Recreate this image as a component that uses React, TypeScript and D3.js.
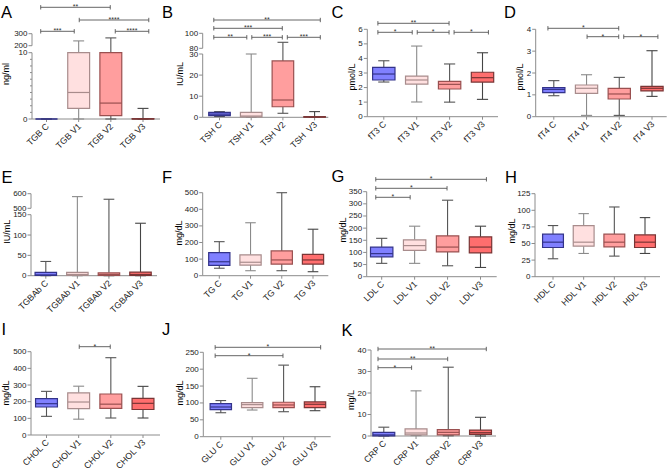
import React from 'react';
import * as d3 from 'd3';

const FONT = "'Liberation Sans', Arial, Helvetica, sans-serif";

// ---------------- data (box stats: [min, q1, median, q3, max]) ----------------
const tgbLabels = ['TGB C', 'TGB V1', 'TGB V2', 'TGB V3'];
const tgbStats = [[0, 0, 0, 0, 0], [0, 1.6, 4.0, 10, 240], [0, 0.5, 2.4, 10, 265], [0, 0, 0, 0.05, 1.6]];
const tgbTicksLow = [0, 10];
const tgbMinorLow = [1, 2, 3, 4, 5, 6, 7, 8, 9];
const tgbTicksHigh = [200, 300];
const tgbSig: [number, number, string, number][] = [[0, 2, '**', 2], [1, 3, '****', 1], [0, 1, '***', 0], [2, 3, '****', 0]];

const tshLabels = ['TSH C', 'TSH V1', 'TSH V2', 'TSH\u00a0 V3'];
const tshStats = [[0.4, 0.8, 1.5, 2.3, 2.7], [0, 0.2, 0.6, 2.3, 30], [1.9, 5.0, 8.2, 26.7, 88], [0, 0.05, 0.2, 0.3, 2.7]];
const tshTicksLow = [0, 10, 20, 30];
const tshTicksHigh = [80, 100];
const tshSig: [number, number, string, number][] = [[0, 3, '**', 2], [0, 2, '***', 1], [0, 1, '**', 0], [1, 2, '***', 0], [2, 3, '***', 0]];

const ft3Labels = ['fT3 C', 'fT3 V1', 'fT3 V2', 'fT3 V3'];
const ft3Stats = [[2.38, 2.52, 2.93, 3.39, 3.84], [1.01, 2.24, 2.52, 2.79, 4.85], [1.0, 1.9, 2.22, 2.43, 3.62], [1.19, 2.38, 2.68, 3.05, 4.39]];
const ft3Ticks = [0, 1, 2, 3, 4, 5, 6];
const ft3Sig: [number, number, string, number][] = [[0, 2, '**', 1], [0, 1, '*', 0], [1, 2, '*', 0], [2, 3, '*', 0]];

const ft4Labels = ['fT4 C', 'fT4 V1', 'fT4 V2', 'fT4 V3'];
const ft4Stats = [[0.96, 1.1, 1.25, 1.33, 1.65], [0.06, 1.07, 1.3, 1.45, 1.92], [0.06, 0.81, 1.04, 1.3, 1.8], [0.93, 1.18, 1.3, 1.39, 3.02]];
const ft4Ticks = [0, 1, 2, 3, 4];
const ft4Sig: [number, number, string, number][] = [[0, 2, '*', 1], [1, 2, '*', 0], [2, 3, '*', 0]];

const tgbabLabels = ['TGBAb C', 'TGBAb V1', 'TGBAb V2', 'TGBAb V3'];
const tgbabStats = [[0, 0.5, 2, 8, 35], [0, 0.5, 3, 8, 580], [0, 0.5, 3, 7, 562], [0, 0.5, 3, 9, 129]];
const tgbabTicksLow = [0, 50, 100, 150];
const tgbabTicksHigh = [500, 600];

const tgLabels = ['TG C', 'TG V1', 'TG V2', 'TG V3'];
const tgStats = [[45, 62, 84, 139, 205], [30, 64, 81, 126, 319], [30, 70, 95, 149, 500], [24, 70, 95, 129, 280]];
const tgTicks = [0, 100, 200, 300, 400, 500];

const ldlLabels = ['LDL C', 'LDL V1', 'LDL V2', 'LDL V3'];
const ldlStats = [[55, 82, 95, 122, 158], [55, 108, 128, 152, 208], [45, 102, 122, 168, 315], [38, 98, 122, 164, 208]];
const ldlTicks = [0, 50, 100, 150, 200, 250, 300, 350];
const ldlSig: [number, number, string, number][] = [[0, 3, '*', 2], [0, 2, '*', 1], [0, 1, '*', 0]];

const hdlLabels = ['HDL C', 'HDL V1', 'HDL V2', 'HDL V3'];
const hdlStats = [[27, 44, 52, 64, 77], [35, 46, 52, 77, 95], [31, 45, 52, 64, 105], [35, 44, 52, 63, 89]];
const hdlTicks = [0, 25, 50, 75, 100, 125];

const cholLabels = ['CHOL C', 'CHOL V1', 'CHOL V2', 'CHOL V3'];
const cholStats = [[112, 168, 188, 218, 262], [95, 158, 198, 253, 293], [102, 160, 185, 246, 464], [102, 153, 190, 220, 292]];
const cholTicks = [0, 100, 200, 300, 400, 500];
const cholSig: [number, number, string, number][] = [[1, 2, '*', 0]];

const gluLabels = ['GLU C', 'GLU V1', 'GLU V2', 'GLU V3'];
const gluStats = [[71, 80, 88, 98, 107], [79, 86, 95, 101, 173], [74, 86, 94, 102, 212], [77, 86, 96, 103, 148]];
const gluTicks = [0, 50, 100, 150, 200, 250];
const gluSig: [number, number, string, number][] = [[0, 3, '*', 1], [0, 2, '*', 0]];

const crpLabels = ['CRP C', 'CRP V1', 'CRP V2', 'CRP V3'];
const crpStats = [[0, 0.1, 0.5, 1.7, 4.1], [0.2, 0.5, 1.4, 3.3, 21], [0.1, 0.5, 1.7, 3.0, 32], [0, 0.8, 1.55, 2.7, 8.7]];
const crpTicks = [0, 10, 20, 30, 40];
const crpSig: [number, number, string, number][] = [[0, 3, '**', 2], [0, 2, '**', 1], [0, 1, '*', 0]];

// ---------------- styles ----------------
const boxFill = ['#8080ff', '#ffe0e0', '#ff9e9e', '#ff6e6e'];
const boxStroke = ['#33338a', '#a88c8c', '#9a5050', '#7a3535'];
const whiskerStroke = ['#555555', '#8a8a8a', '#555555', '#444444'];
const axisColor = '#8c8c8c';
const textColor = '#222222';

type Seg = { domain: [number, number]; ticks: number[]; minor?: number[] };
type PanelDef = { id: string; unit: string; labels: string[]; stats: number[][]; sig: [number, number, string, number][]; segs: Seg[] };

const panels: PanelDef[] = [
  { id: 'A', unit: 'ng/ml', labels: tgbLabels, stats: tgbStats, sig: tgbSig, segs: [{ domain: [0, 10], ticks: tgbTicksLow, minor: tgbMinorLow }, { domain: [200, 300], ticks: tgbTicksHigh }] },
  { id: 'B', unit: 'IU/mL', labels: tshLabels, stats: tshStats, sig: tshSig, segs: [{ domain: [0, 30], ticks: tshTicksLow }, { domain: [80, 100], ticks: tshTicksHigh }] },
  { id: 'C', unit: 'pmol/L', labels: ft3Labels, stats: ft3Stats, sig: ft3Sig, segs: [{ domain: [0, 6], ticks: ft3Ticks }] },
  { id: 'D', unit: 'pmol/L', labels: ft4Labels, stats: ft4Stats, sig: ft4Sig, segs: [{ domain: [0, 4], ticks: ft4Ticks }] },
  { id: 'E', unit: 'IU/mL', labels: tgbabLabels, stats: tgbabStats, sig: [], segs: [{ domain: [0, 150], ticks: tgbabTicksLow }, { domain: [500, 600], ticks: tgbabTicksHigh }] },
  { id: 'F', unit: 'mg/dL', labels: tgLabels, stats: tgStats, sig: [], segs: [{ domain: [0, 500], ticks: tgTicks }] },
  { id: 'G', unit: 'mg/dL', labels: ldlLabels, stats: ldlStats, sig: ldlSig, segs: [{ domain: [0, 350], ticks: ldlTicks }] },
  { id: 'H', unit: 'mg/dL', labels: hdlLabels, stats: hdlStats, sig: [], segs: [{ domain: [0, 125], ticks: hdlTicks }] },
  { id: 'I', unit: 'mg/dL', labels: cholLabels, stats: cholStats, sig: cholSig, segs: [{ domain: [0, 500], ticks: cholTicks }] },
  { id: 'J', unit: 'mg/dL', labels: gluLabels, stats: gluStats, sig: gluSig, segs: [{ domain: [0, 250], ticks: gluTicks }] },
  { id: 'K', unit: 'mg/L', labels: crpLabels, stats: crpStats, sig: crpSig, segs: [{ domain: [0, 40], ticks: crpTicks }] },
];

type Layout = { letter: [number, number]; axisX: number; axisEnd: number; c: [number, number]; title: [number, number]; ranges: [number, number][]; sigY: number[] };

const layouts: Record<string, Layout> = {
  A: { letter: [1, 18], axisX: 32, axisEnd: 160, c: [46.5, 143], title: [6, 74], ranges: [[119, 52.7], [45.7, 33.7]], sigY: [31.3, 20, 7.3] },
  B: { letter: [162, 17.5], axisX: 202.7, axisEnd: 328.3, c: [219.5, 314.6], title: [179.5, 74], ranges: [[117.3, 54], [48.3, 33.3]], sigY: [37.3, 28.3, 20] },
  C: { letter: [331.5, 17.5], axisX: 367.3, axisEnd: 498, c: [383.8, 482.5], title: [352, 77], ranges: [[116.7, 29.3]], sigY: [32.3, 23.3] },
  D: { letter: [504, 17.5], axisX: 535.7, axisEnd: 666.7, c: [553.8, 652], title: [519.5, 77], ranges: [[116.7, 29.3]], sigY: [36.7, 28.3] },
  E: { letter: [1.5, 183], axisX: 31, axisEnd: 157, c: [45.8, 140.5], title: [7, 231.7], ranges: [[275.7, 214.7], [208.3, 193.7]], sigY: [] },
  F: { letter: [162, 183], axisX: 202.7, axisEnd: 328.3, c: [219.3, 313], title: [179, 233], ranges: [[275.7, 192.7]], sigY: [] },
  G: { letter: [331.5, 182], axisX: 366.7, axisEnd: 496.7, c: [381.7, 480.5], title: [343, 230], ranges: [[276.7, 191.7]], sigY: [197.3, 188.3, 179.3] },
  H: { letter: [505, 183], axisX: 535, axisEnd: 660, c: [553, 645], title: [512, 231], ranges: [[276.7, 193.7]], sigY: [] },
  I: { letter: [1.5, 335], axisX: 31, axisEnd: 160, c: [46.5, 143], title: [6, 393], ranges: [[435, 351.7]], sigY: [346.7] },
  J: { letter: [162, 335], axisX: 203.3, axisEnd: 330.7, c: [220.8, 315], title: [180, 393], ranges: [[436.7, 352.3]], sigY: [355.7, 347.3] },
  K: { letter: [341.5, 336], axisX: 371, axisEnd: 496, c: [383.8, 480.5], title: [351, 400], ranges: [[436, 350]], sigY: [367.7, 359, 349] },
};

function Panel({ p }: { p: PanelDef }) {
  const L = layouts[p.id];
  const x = d3.scalePoint<string>().domain(p.labels).range(L.c);
  const mid = (L.c[0] + L.c[1]) / 2;
  const half = (L.c[1] - L.c[0]) / 2;
  const bxs = d3.scalePoint<string>().domain(p.labels).range([mid - half * 1.12, mid + half * 1.12]);
  const segScales = p.segs.map((s, i) => d3.scaleLinear().domain(s.domain).range(L.ranges[i]));
  const y = (v: number) => {
    if (segScales.length === 1) return segScales[0](v);
    const lo = p.segs[0], hi = p.segs[1];
    if (v <= lo.domain[1]) return segScales[0](v);
    if (v >= hi.domain[0]) return segScales[1](v);
    return segScales[0](lo.domain[1]);
  };
  const step = x.step();
  const bw = step * 0.68;
  const cw = bw * 0.5;
  const bottom = L.ranges[0][0];

  return (
    <g>
      <text x={L.letter[0]} y={L.letter[1]} fontSize={16.5} fill="#000" fontFamily={FONT}>{p.id}</text>
      <text transform={`translate(${L.title[0]},${L.title[1]}) rotate(-90)`} textAnchor="middle" dominantBaseline="central" fontSize={9} fill="#000" fontFamily={FONT}>{p.unit}</text>
      {p.segs.map((s, i) => (
        <g key={i}>
          <line x1={L.axisX} x2={L.axisX} y1={segScales[i].range()[0]} y2={segScales[i].range()[1]} stroke={axisColor} strokeWidth={1} />
          {s.ticks.map(t => (
            <g key={t}>
              <line x1={L.axisX - 3.5} x2={L.axisX} y1={segScales[i](t)} y2={segScales[i](t)} stroke={axisColor} strokeWidth={1} />
              <text x={L.axisX - 4.5} y={segScales[i](t)} textAnchor="end" dominantBaseline="central" fontSize={8} fill={textColor} fontFamily={FONT}>{t}</text>
            </g>
          ))}
          {(s.minor || []).map(t => (
            <line key={'m' + t} x1={L.axisX - 2} x2={L.axisX} y1={segScales[i](t)} y2={segScales[i](t)} stroke={axisColor} strokeWidth={1} />
          ))}
        </g>
      ))}
      <line x1={L.axisX} x2={L.axisEnd} y1={bottom} y2={bottom} stroke={axisColor} strokeWidth={1} />
      {p.labels.map(lab => (
        <g key={lab}>
          <line x1={x(lab)!} x2={x(lab)!} y1={bottom} y2={bottom + 3} stroke={axisColor} strokeWidth={1} />
          <text transform={`translate(${x(lab)! + 3},${bottom + 8}) rotate(-45)`} textAnchor="end" fontSize={8.8} fill={textColor} fontFamily={FONT} style={{ whiteSpace: 'pre' }}>{lab}</text>
        </g>
      ))}
      {p.labels.map((lab, i) => {
        const [mn, q1, md, q3, mx] = p.stats[i];
        const cx = x(lab)!;
        const x0 = cx - bw / 2, x1 = cx + bw / 2;
        const yq1 = y(q1), yq3 = y(q3);
        return (
          <g key={lab}>
            <line x1={cx} x2={cx} y1={y(mx)} y2={yq3} stroke={whiskerStroke[i]} strokeWidth={1.1} />
            <line x1={cx} x2={cx} y1={yq1} y2={y(mn)} stroke={whiskerStroke[i]} strokeWidth={1.1} />
            <line x1={cx - cw / 2} x2={cx + cw / 2} y1={y(mx)} y2={y(mx)} stroke={whiskerStroke[i]} strokeWidth={1.1} />
            <line x1={cx - cw / 2} x2={cx + cw / 2} y1={y(mn)} y2={y(mn)} stroke={whiskerStroke[i]} strokeWidth={1.1} />
            <path d={`M${x0},${yq3}H${x1}V${yq1}H${x0}Z`} fill={boxFill[i]} stroke={boxStroke[i]} strokeWidth={1.2} />
            <line x1={x0} x2={x1} y1={y(md)} y2={y(md)} stroke={boxStroke[i]} strokeWidth={1.2} />
          </g>
        );
      })}
      {p.sig.map(([a, b, stars, lvl], k) => {
        const yy = L.sigY[lvl];
        const xa = bxs(p.labels[a])! + (a > 0 ? 2.5 : 0);
        const xb = bxs(p.labels[b])! - (b < 3 ? 2.5 : 0);
        return (
          <g key={k}>
            <line x1={xa} x2={xb} y1={yy} y2={yy} stroke="#555" strokeWidth={0.9} />
            <line x1={xa} x2={xa} y1={yy - 2.2} y2={yy + 2.2} stroke="#555" strokeWidth={0.9} />
            <line x1={xb} x2={xb} y1={yy - 2.2} y2={yy + 2.2} stroke="#555" strokeWidth={0.9} />
            <text x={(xa + xb) / 2} y={yy + 1.8} textAnchor="middle" fontSize={7} fill="#333" fontFamily={FONT}>{stars}</text>
          </g>
        );
      })}
    </g>
  );
}

export default function App() {
  return (
    <svg width={668} height={472} viewBox="0 0 668 472" style={{ position: 'absolute', left: 0, top: 0, background: '#fff' }}>
      <rect x={0} y={0} width={668} height={472} fill="#fff" />
      {panels.map(p => <Panel key={p.id} p={p} />)}
    </svg>
  );
}
